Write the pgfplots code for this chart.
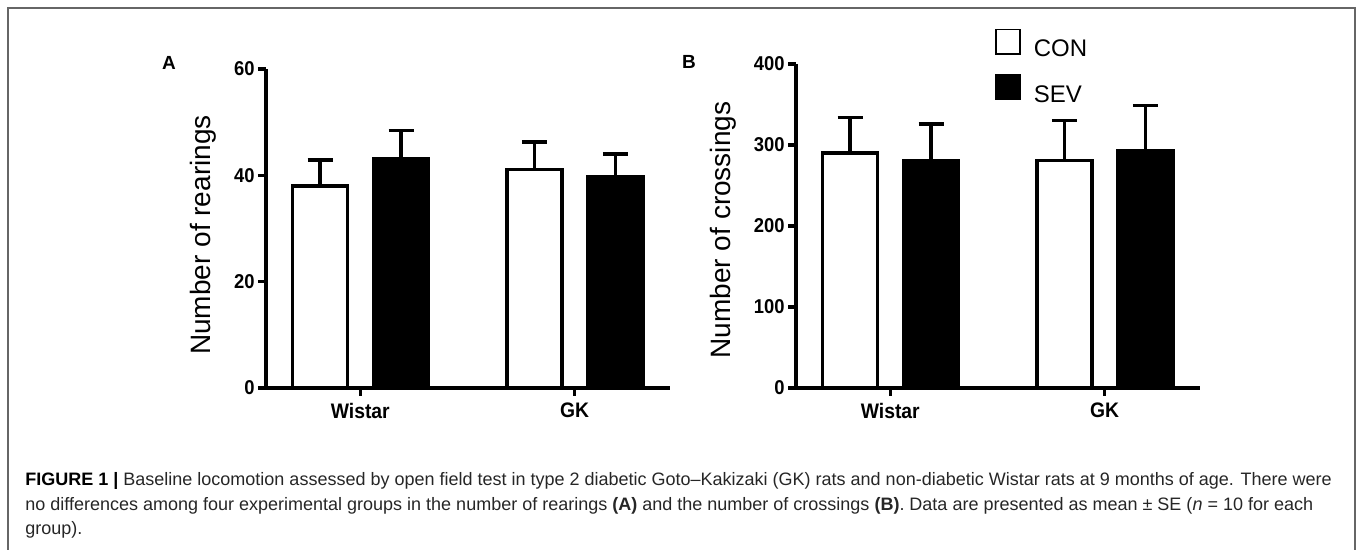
\documentclass[border=0pt]{standalone}
\usepackage{fontspec}
\setmainfont{Liberation Sans}
\newfontfamily\condb{Liberation Sans}[FakeStretch=0.92]
\usepackage{pgfplots}
\pgfplotsset{compat=1.18}

\pgfplotsset{
  panel/.style={scale only axis, anchor=south west, width=202pt,
    axis x line*=bottom, axis y line*=left,
    axis line style={line width=2pt, black},
    xmin=-0.44, xmax=1.445, xtick={0,1}, xticklabels={Wistar,GK},
    tick align=outside, major tick length=4pt,
    tick style={line width=1.75pt, black},
    ymin=0, bar width=0.256,
    /pgf/number format/assume math mode=true,
    yticklabel style={font=\condb\bfseries\fontsize{10}{10}\selectfont, inner sep=0pt, xshift=-1.5pt},
    xticklabel style={font=\condb\bfseries\fontsize{10.5}{10.5}\selectfont},
    clip=false},
  % bars sit at their own x (group centre -0.188 / +0.19), so no bar shift
  con/.style={ybar, bar shift=0pt, fill=white, draw=black, line width=1.75pt, forget plot},
  sev/.style={ybar, bar shift=0pt, fill=black, draw=black, line width=1.75pt, forget plot},
  errs/.style={error bars/.cd, y dir=plus, y explicit,
    error bar style={line width=1.75pt, black},
    error mark options={rotate=90, mark size=6.25pt, line width=1.75pt, black}}
}

\begin{document}
\begin{tikzpicture}
\useasboundingbox (0,0) rectangle (678.5pt,275pt);
\draw[line width=1pt, black!60] (4pt,-5pt) -- (4pt,271pt) -- (677.5pt,271pt) -- (677.5pt,-5pt);

% panel A: rearings
\begin{axis}[panel, at={(133pt,81pt)}, height=159.5pt, ymax=60, ytick={0,20,40,60}]
\addplot[con, errs] coordinates {(-0.188,38.0) +- (0,4.9) (0.812,41.1) +- (0,5.2)};
\addplot[sev, errs] coordinates {(0.19,43.1) +- (0,5.3) (1.19,39.7) +- (0,4.3)};
\end{axis}

% panel B: crossings
\begin{axis}[panel, at={(398pt,81pt)}, height=162pt, ymax=400, ytick={0,100,200,300,400},
  legend style={at={(0.4926,1.108)}, anchor=north west, draw=none, fill=none,
    inner sep=0pt, outer sep=0pt, font=\fontsize{12}{12}\selectfont,
    row sep=7.3pt, nodes={inner sep=0pt},
    /tikz/every odd column/.append style={column sep=6.5pt}},
  legend cell align=left]
\addplot[con, errs] coordinates {(-0.188,290) +- (0,44) (0.812,281) +- (0,49)};
\addplot[sev, errs] coordinates {(0.19,280) +- (0,46) (1.19,293) +- (0,56)};
\addlegendimage{legend image code/.code={\draw[fill=white, draw=black, line width=0.75pt] (0pt,-2.1pt) rectangle (12.2pt,10.1pt);}}
\addlegendentry{CON}
\addlegendimage{legend image code/.code={\draw[fill=black, draw=black, line width=0.75pt] (0pt,-2.1pt) rectangle (12.2pt,10.1pt);}}
\addlegendentry{SEV}
\end{axis}

\node[font=\bfseries\fontsize{9.5}{9.5}\selectfont] at (84.5pt,243.5pt) {A};
\node[font=\bfseries\fontsize{9.5}{9.5}\selectfont] at (344.5pt,244pt) {B};
\node[rotate=90, font=\fontsize{14}{14}\selectfont] at (101.5pt,157.5pt) {Number of rearings};
\node[rotate=90, font=\fontsize{14}{14}\selectfont] at (361.5pt,160pt) {Number of crossings};

% caption
\begin{scope}[every node/.style={anchor=base west, inner sep=0pt, text=black!85, font=\fontsize{9}{10}\selectfont}]
\node at (12.5pt,32pt) {\textcolor{black}{\textbf{FIGURE 1 |}} Baseline locomotion assessed by open field test in type 2 diabetic Goto--Kakizaki (GK) rats and non-diabetic Wistar rats at 9 months of age. There were};
\node at (12.5pt,19.5pt) {no differences among four experimental groups in the number of rearings \textbf{(A)} and the number of crossings \textbf{(B)}. Data are presented as mean ± SE (\textit{n} = 10 for each};
\node at (12.5pt,7.5pt) {group).};
\end{scope}
\end{tikzpicture}
\end{document}
